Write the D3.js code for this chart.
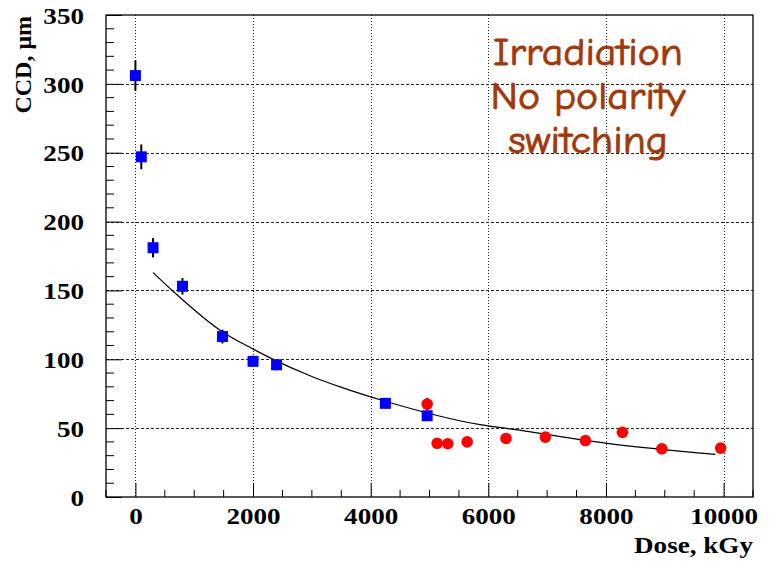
<!DOCTYPE html>
<html>
<head>
<meta charset="utf-8">
<script src="https://cdn.jsdelivr.net/npm/d3@7/dist/d3.min.js"></script>
<style>
  html, body { margin: 0; padding: 0; background: #fff; }
  svg { display: block; }
</style>
</head>
<body>
<svg id="chart" width="769" height="562"></svg>
<script>
// CCD versus dose under irradiation (no polarity switching)
const xTicks = [0, 2000, 4000, 6000, 8000, 10000];
const yTicks = [0, 50, 100, 150, 200, 250, 300, 350];

// first series (blue squares) with error bars
const blueDose = [0, 100, 300, 800, 1480, 2000, 2400, 4250, 4960];
const blueCCD  = [306, 247, 181, 153, 116.5, 98.5, 96, 68, 59];
const blueErr  = [11, 9, 7, 6, 5, 4, 4, 3, 3];

// second series (red circles)
const redDose = [4960, 5130, 5310, 5640, 6300, 6970, 7650, 8280, 8950, 9950];
const redCCD  = [67.5, 39, 38.7, 40, 42.5, 43.5, 41, 47, 35, 35.5];
const redErr  = [4.5, 2, 2, 2, 2, 2, 2, 2, 2, 2];

// fitted trend curve
const fitDose = [300, 650, 1475, 2020, 2290, 3030, 3480, 4250, 5860, 6370, 8020, 9860];
const fitCCD  = [163, 149, 120, 107, 101, 87, 80, 69.5, 52.5, 49.5, 39, 31];

const noteLines = ["Irradiation", "No polarity", "switching"];

const svg = d3.select("#chart");
const L = 106, R = 753, T = 15, B = 497;
const SX = 1.13; // horizontal glyph stretch

const x = d3.scaleLinear().domain([-500, 10500]).range([L, R]);
const y = d3.scaleLinear().domain([0, 350]).range([B, T]);

svg.append("rect").attr("width", 769).attr("height", 562).attr("fill", "#fff");

// grid
const grid = svg.append("g").attr("stroke", "#222").attr("stroke-width", 1);
grid.selectAll("line.v").data(xTicks).join("line")
  .attr("x1", d => Math.round(x(d)) + 0.5).attr("x2", d => Math.round(x(d)) + 0.5)
  .attr("y1", T).attr("y2", B)
  .attr("stroke-dasharray", "1,2");
grid.selectAll("line.h").data(yTicks.filter(d => d > 0 && d < 350)).join("line")
  .attr("y1", d => Math.round(y(d)) + 0.5).attr("y2", d => Math.round(y(d)) + 0.5)
  .attr("x1", L).attr("x2", R)
  .attr("stroke-dasharray", "3,2");

// axes (ticks point inward)
const fontStyle = sel => sel.attr("font-family", "'Liberation Serif', 'Times New Roman', serif")
  .attr("font-weight", "bold").attr("font-size", 24).attr("fill", "#000");

const xMinor = d3.range(-500, 10501, 500).filter(d => !xTicks.includes(d));
const yMinor = d3.range(0, 351, 10).filter(d => !yTicks.includes(d));

const xAxis = svg.append("g").attr("transform", `translate(0,${B})`)
  .call(d3.axisBottom(x).tickValues(xTicks).tickFormat(d3.format("d"))
    .tickSizeInner(-14).tickSizeOuter(0).tickPadding(0));
xAxis.select(".domain").remove();
xAxis.selectAll(".tick line").attr("stroke", "#000");
xAxis.selectAll(".tick text").call(fontStyle).attr("y", 27)
  .attr("transform", `scale(${SX},1)`).attr("dy", null).attr("x", 0);
svg.append("g").attr("stroke", "#000").attr("stroke-width", 1)
  .selectAll("line").data(xMinor).join("line")
  .attr("x1", d => x(d)).attr("x2", d => x(d)).attr("y1", B).attr("y2", B - 7);

const yAxis = svg.append("g").attr("transform", `translate(${L},0)`)
  .call(d3.axisLeft(y).tickValues(yTicks).tickFormat(d3.format("d"))
    .tickSizeInner(-16).tickSizeOuter(0).tickPadding(0));
yAxis.select(".domain").remove();
yAxis.selectAll(".tick line").attr("stroke", "#000");
yAxis.selectAll(".tick text").call(fontStyle)
  .attr("x", -22 / SX).attr("dy", "0.34em")
  .attr("transform", `scale(${SX},1)`);
svg.append("g").attr("stroke", "#000").attr("stroke-width", 1)
  .selectAll("line").data(yMinor).join("line")
  .attr("y1", d => y(d)).attr("y2", d => y(d)).attr("x1", L).attr("x2", L + 8);

// frame
svg.append("rect").attr("x", L).attr("y", T).attr("width", R - L).attr("height", B - T)
  .attr("fill", "none").attr("stroke", "#000").attr("stroke-width", 1.3);

// axis titles
svg.append("g").attr("transform", `translate(${R},553) scale(${SX},1)`)
  .append("text").call(fontStyle).attr("text-anchor", "end").text("Dose, kGy");
svg.append("g").attr("transform", `translate(31,16) rotate(-90)`)
  .append("text").call(fontStyle).attr("text-anchor", "end").text("CCD, μm");

// annotation
const note = svg.append("g").attr("fill", "#a03a0c")
  .attr("stroke", "#a03a0c").attr("stroke-width", 0.9)
  .attr("font-family", "'Comic Sans MS', 'Comic Neue', 'Noto Sans', sans-serif")
  .attr("font-size", 39);
note.selectAll("text").data(noteLines).join("text")
  .attr("text-anchor", "middle")
  .attr("transform", (d, i) => `translate(588,${65 + i * 44}) scale(1.07,1)`)
  .text(d => d);

// fit curve
const fitPts = fitDose.map((d, i) => [d, fitCCD[i]]);
svg.append("path").datum(fitPts)
  .attr("fill", "none").attr("stroke", "#000").attr("stroke-width", 1.2)
  .attr("d", d3.line().x(d => x(d[0])).y(d => y(d[1])).curve(d3.curveMonotoneX));

// error bars
const errG = svg.append("g").attr("stroke", "#000").attr("stroke-width", 2);
errG.selectAll("line.b").data(blueDose.map((d, i) => i)).join("line")
  .attr("x1", i => x(blueDose[i])).attr("x2", i => x(blueDose[i]))
  .attr("y1", i => y(blueCCD[i] + blueErr[i])).attr("y2", i => y(blueCCD[i] - blueErr[i]));
errG.selectAll("line.r").data(redDose.map((d, i) => i)).join("line")
  .attr("x1", i => x(redDose[i])).attr("x2", i => x(redDose[i]))
  .attr("y1", i => y(redCCD[i] + redErr[i])).attr("y2", i => y(redCCD[i] - redErr[i]));

// markers
const S = 11;
svg.append("g").selectAll("rect").data(blueDose.map((d, i) => i)).join("rect")
  .attr("x", i => x(blueDose[i]) - S / 2).attr("y", i => y(blueCCD[i]) - S / 2)
  .attr("width", S).attr("height", S).attr("fill", "#0000ff");
svg.append("g").selectAll("circle").data(redDose.map((d, i) => i)).join("circle")
  .attr("cx", i => x(redDose[i])).attr("cy", i => y(redCCD[i]))
  .attr("r", 5.8).attr("fill", "#ff0000");
</script>
</body>
</html>
